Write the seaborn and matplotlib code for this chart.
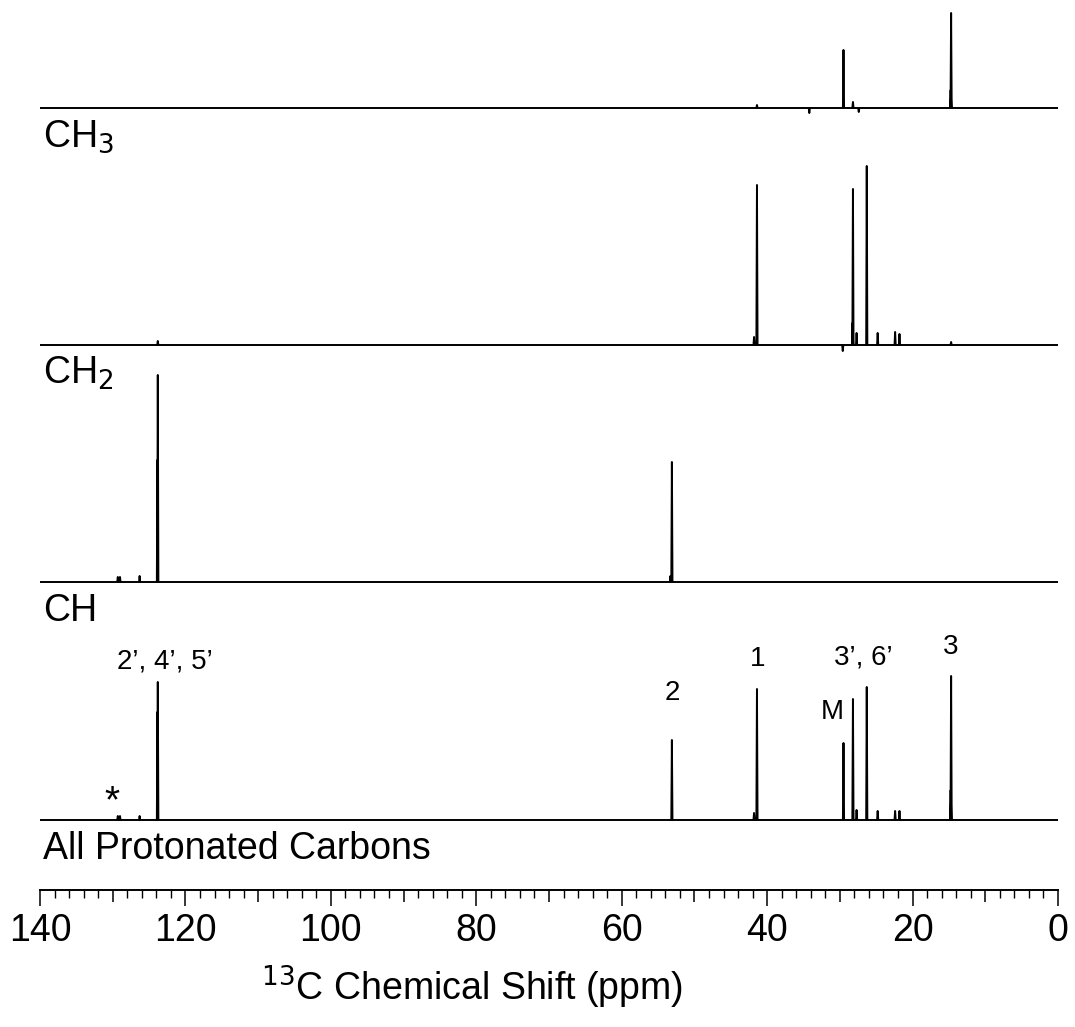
import numpy as np
import pandas as pd
import matplotlib
matplotlib.use("Agg")
import matplotlib.pyplot as plt
from matplotlib.ticker import MultipleLocator, FuncFormatter
import seaborn as sns

# --- peak lists (ppm, height) ---
ch3_ppm = [41.4, 34.2, 29.5, 28.2, 27.4, 14.75, 14.7]
ch3_int = [3, -5, 58, 6, -4, 18, 95]

ch2_ppm = [123.8, 41.8, 41.4, 29.6, 28.25, 28.2, 27.7, 26.3, 24.8, 22.4, 21.8, 14.7]
ch2_int = [4, 8, 160, -6, 22, 156, 12, 179, 12, 13, 11, 3]

ch_ppm = [129.3, 129.0, 126.3, 123.85, 123.8, 53.3, 53.1]
ch_int = [5, 5, 6, 122, 207, 6, 120]

all_ppm = [129.3, 129.0, 126.3, 123.85, 123.8, 53.1, 41.8, 41.4, 29.5, 28.2, 27.7,
           26.3, 24.8, 22.4, 21.8, 14.75, 14.7]
all_int = [4, 4, 4, 108, 138, 80, 7, 131, 77, 121, 10, 133, 9, 9, 9, 30, 144]

spectrum_names = ["CH$_3$", "CH$_2$", "CH", "All Protonated Carbons"]
offsets = [782, 545, 308, 70]

peak_labels = ["2\u2019, 4\u2019, 5\u2019", "2", "1", "M", "3\u2019, 6\u2019", "3"]
label_ppm = [122.8, 53.1, 41.3, 31.1, 26.8, 14.7]
label_y = [229, 197, 231, 178, 233, 243]
star_ppm, star_y = 130.1, 88


def stick_trace(ppm, inten, offset, hw=0.08):
    xs, ys = [140.0], [offset]
    for p, h in sorted(zip(ppm, inten), reverse=True):
        xs += [p + hw, p, p - hw]
        ys += [offset, offset + h, offset]
    xs.append(0.0)
    ys.append(offset)
    return pd.DataFrame({"ppm": xs, "y": ys})


sns.set_style("white")
plt.rcParams["font.family"] = ["Liberation Sans", "DejaVu Sans"]
plt.rcParams["text.color"] = "black"
plt.rcParams["axes.labelcolor"] = "black"
plt.rcParams["xtick.color"] = "black"
plt.rcParams["axes.edgecolor"] = "black"

fig = plt.figure(figsize=(10.75, 10.27), dpi=100)
ax = fig.add_axes([40 / 1075, 1 - 890 / 1027, 1018 / 1075, 890 / 1027])

spectra = [(ch3_ppm, ch3_int), (ch2_ppm, ch2_int), (ch_ppm, ch_int), (all_ppm, all_int)]
for (pp, ii), off, name in zip(spectra, offsets, spectrum_names):
    df = stick_trace(pp, ii, off)
    sns.lineplot(data=df, x="ppm", y="y", sort=False, estimator=None,
                 color="black", lw=1.4, ax=ax)
    ax.text(139.6, off - 39, name, fontsize=27, ha="left", va="baseline")

for txt, px, py in zip(peak_labels, label_ppm, label_y):
    ax.text(px, py, txt, fontsize=20, ha="center", va="center")
ax.text(star_ppm, star_y, "*", fontsize=28, ha="center", va="center")

ax.set_xlim(140, 0)
ax.set_ylim(0, 890)
ax.set_yticks([])
ax.set_ylabel("")
for s in ["left", "right", "top"]:
    ax.spines[s].set_visible(False)
ax.spines["bottom"].set_linewidth(1.4)

ax.xaxis.set_major_locator(MultipleLocator(10))
ax.xaxis.set_minor_locator(MultipleLocator(2))
ax.xaxis.set_major_formatter(FuncFormatter(lambda v, p: f"{v:.0f}" if round(v) % 20 == 0 else ""))
ax.tick_params(axis="x", which="major", direction="out", length=8.6, width=1.1,
               labelsize=27, pad=8, bottom=True)
ax.tick_params(axis="x", which="minor", direction="out", length=5.8, width=1.0, bottom=True)
for t, v in zip(ax.xaxis.get_major_ticks(), ax.get_xticks()):
    if round(v) % 20 == 0:
        t.tick1line.set_markersize(11.5)

ax.set_xlabel("$^{13}$C Chemical Shift (ppm)", fontsize=27)
ax.xaxis.set_label_coords(0.424, -0.083)

fig.savefig("out.png", dpi=100)
